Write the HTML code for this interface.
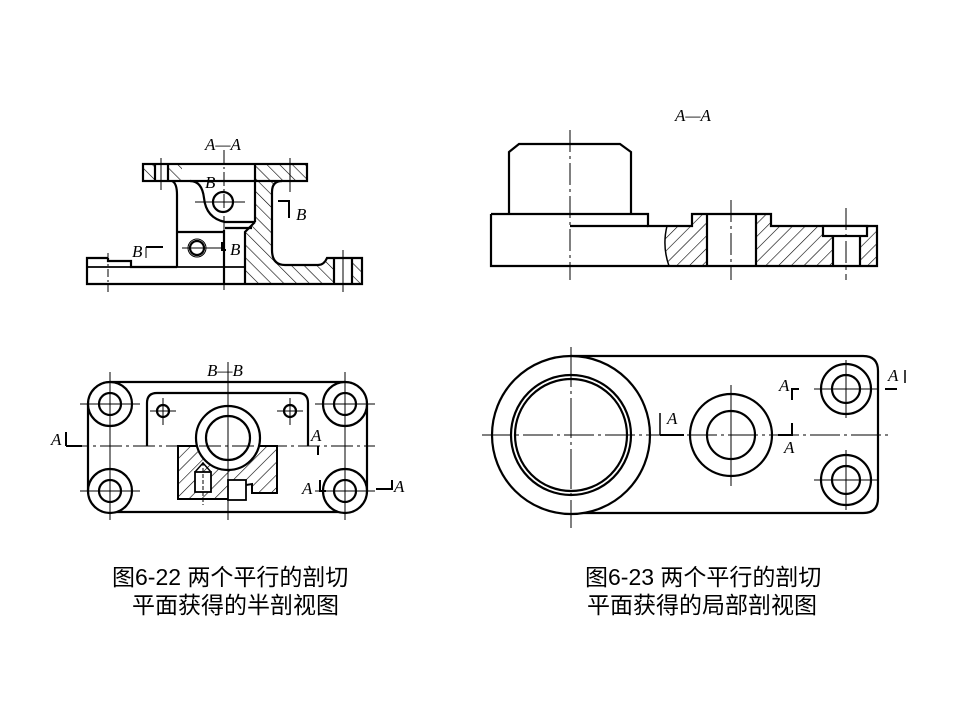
<!DOCTYPE html>
<html><head><meta charset="utf-8"><style>
html,body{margin:0;padding:0;background:#fff;}
svg{display:block;}
.t{font-family:"Liberation Serif",serif;font-style:italic;font-size:17px;fill:#000;}
.c{font-family:"Liberation Sans","Noto Sans CJK SC",sans-serif;font-size:23px;fill:#000;}
</style></head><body>
<svg width="960" height="720" viewBox="0 0 960 720" xmlns="http://www.w3.org/2000/svg">
<defs>
<pattern id="h" patternUnits="userSpaceOnUse" width="9" height="9" patternTransform="rotate(45)">
<line x1="0" y1="0" x2="0" y2="9" stroke="#000" stroke-width="1.2"/>
</pattern>
<pattern id="h2" patternUnits="userSpaceOnUse" width="9" height="9" patternTransform="rotate(-45)">
<line x1="0" y1="0" x2="0" y2="9" stroke="#000" stroke-width="1.2"/>
</pattern>
</defs>
<rect width="960" height="720" fill="#fff"/>

<!-- ===== Top-left A-A ===== -->
<g fill="none" stroke="#000" stroke-width="2.2">
<rect x="143" y="164" width="12" height="17" fill="url(#h2)" stroke="none"/>
<rect x="168" y="164" width="14" height="17" fill="url(#h2)" stroke="none"/>
<path d="M255 164 H307 V181 H282 Q272 181 272 192 V250 Q272 265 285 265 H318 Q324 265 327 258 H334 V284 H245 V232 L255 222 Z" fill="url(#h2)" stroke="none"/>
<rect x="352" y="258" width="10" height="26" fill="url(#h2)" stroke="none"/>
<rect x="143" y="164" width="164" height="17"/>
<line x1="155" y1="164" x2="155" y2="181"/><line x1="168" y1="164" x2="168" y2="181"/>
<path d="M282 181 Q272 181 272 192 V250 Q272 265 285 265 H318 Q324 265 327 258 H362 V284 H87 V258 H108"/>
<path d="M108 258 V261 H131 V267 H177"/>
<line x1="87" y1="267" x2="245" y2="267" stroke-width="1.8"/>
<line x1="255" y1="164" x2="255" y2="222"/>
<path d="M255 222 L245 232 V284"/>
<line x1="224" y1="230" x2="224" y2="284"/>
<path d="M172 181 Q177 183 177 195 V267"/>
<path d="M190 181 Q202 181 204 198 Q206 218 225 222 H255"/>
<line x1="177" y1="232" x2="225" y2="232"/>
<path d="M225 228 H252"/>
<line x1="334" y1="258" x2="334" y2="284"/><line x1="352" y1="258" x2="352" y2="284"/>
<circle cx="223" cy="202" r="10"/>
<circle cx="197" cy="248" r="7"/>
<circle cx="197" cy="248" r="9" stroke-width="1"/>
</g>
<g stroke="#000" stroke-width="1" fill="none">
<line x1="224" y1="150" x2="224" y2="290" stroke-dasharray="14,3,2,3"/>
<line x1="161" y1="158" x2="161" y2="190"/>
<line x1="290" y1="158" x2="290" y2="192"/>
<line x1="343" y1="250" x2="343" y2="292"/>
<line x1="108" y1="253" x2="108" y2="292" stroke-dasharray="8,3,2,3"/>
<line x1="195" y1="202" x2="245" y2="202"/>
<line x1="182" y1="248" x2="222" y2="248"/>
<path d="M278 201 H289 V218" stroke-width="2"/>
<path d="M146 247 V258" />
<path d="M146 247 H163" stroke-width="2"/>
<path d="M222 242 V250 H226" stroke-width="2"/>
</g>
<text class="t" x="205" y="150">A—A</text>
<text class="t" x="205" y="188">B</text>
<text class="t" x="296" y="220">B</text>
<text class="t" x="230" y="255">B</text>
<text class="t" x="132" y="257">B</text>

<!-- ===== Bottom-left B-B ===== -->
<g fill="none" stroke="#000" stroke-width="2.2">
<path d="M178 446 H277 V493 H252 V484 L240 486 V499 H178 Z" fill="url(#h)" stroke-width="2"/>
<path d="M110 382 H345 M110 512 H345 M88 404 V491 M367 404 V491"/>
<path d="M147 446 V403 Q147 393 157 393 H298 Q308 393 308 403 V446"/>
<circle cx="228" cy="438" r="32" fill="#fff"/>
<circle cx="228" cy="438" r="22"/>
<circle cx="110" cy="404" r="22" fill="#fff"/><circle cx="110" cy="404" r="11"/>
<circle cx="345" cy="404" r="22" fill="#fff"/><circle cx="345" cy="404" r="11"/>
<circle cx="110" cy="491" r="22" fill="#fff"/><circle cx="110" cy="491" r="11"/>
<circle cx="345" cy="491" r="22" fill="#fff"/><circle cx="345" cy="491" r="11"/>
<circle cx="163" cy="411" r="6"/><circle cx="290" cy="411" r="6"/>
<rect x="195" y="472" width="16" height="20" fill="#fff" stroke-width="1.8"/>
<path d="M195 472 L203 463 L211 472" stroke-width="1.5"/>
<rect x="228" y="480" width="18" height="20" fill="#fff" stroke-width="1.8"/>
</g>
<g stroke="#000" stroke-width="1" fill="none">
<line x1="67" y1="446" x2="375" y2="446" stroke-dasharray="22,4,3,4"/>
<line x1="228" y1="362" x2="228" y2="520"/>
<line x1="110" y1="372" x2="110" y2="520"/><line x1="345" y1="372" x2="345" y2="520"/>
<line x1="80" y1="404" x2="140" y2="404"/><line x1="315" y1="404" x2="375" y2="404"/>
<line x1="80" y1="491" x2="140" y2="491"/><line x1="315" y1="491" x2="375" y2="491"/>
<line x1="163" y1="398" x2="163" y2="425"/><line x1="150" y1="411" x2="176" y2="411"/>
<line x1="290" y1="398" x2="290" y2="425"/><line x1="277" y1="411" x2="303" y2="411"/>
<line x1="203" y1="462" x2="203" y2="505" stroke-dasharray="4,2"/>
<path d="M66 446 V432" stroke-width="2"/><path d="M66 446 H82" stroke-width="2"/>
<path d="M318 446 V455" stroke-width="2"/>
<path d="M320 480 V491 H326" stroke-width="2"/>
<path d="M376 489 H392 V480" stroke-width="2"/>
</g>
<text class="t" x="207" y="376">B—B</text>
<text class="t" x="51" y="445">A</text>
<text class="t" x="311" y="441">A</text>
<text class="t" x="302" y="494">A</text>
<text class="t" x="394" y="492">A</text>

<!-- ===== Top-right A-A ===== -->
<g fill="none" stroke="#000" stroke-width="2.2">
<path d="M667 226 H692 V214 H707 V266 H669 Q662 246 667 226 Z" fill="url(#h)" stroke="none"/>
<path d="M756 214 H771 V226 H833 V266 H756 Z" fill="url(#h)" stroke="none"/>
<rect x="860" y="226" width="17" height="40" fill="url(#h)" stroke="none"/>
<path d="M509 214 V152 L519 144 H620 L631 152 V214"/>
<path d="M491 214 V266 H877 V226 H771 V214 H692 V226 H648 V214 H491"/>
<line x1="570" y1="226" x2="648" y2="226"/>
<path d="M667 226 Q662 246 669 266" stroke-width="1.5"/>
<line x1="707" y1="214" x2="707" y2="266"/><line x1="756" y1="214" x2="756" y2="266"/>
<rect x="823" y="226" width="44" height="10" fill="#fff"/>
<line x1="833" y1="236" x2="833" y2="266"/><line x1="860" y1="236" x2="860" y2="266"/>
</g>
<g stroke="#000" stroke-width="1" fill="none">
<line x1="570" y1="130" x2="570" y2="280" stroke-dasharray="22,4,3,4"/>
<line x1="731" y1="200" x2="731" y2="280" stroke-dasharray="22,4,3,4"/>
<line x1="846" y1="208" x2="846" y2="280" stroke-dasharray="22,4,3,4"/>
</g>
<text class="t" x="675" y="121">A—A</text>

<!-- ===== Bottom-right ===== -->
<g fill="none" stroke="#000" stroke-width="2.2">
<path d="M571 356 H863 Q878 356 878 371 V498 Q878 513 863 513 H571"/>
<circle cx="571" cy="435" r="79" fill="#fff"/>
<circle cx="571" cy="435" r="60"/>
<circle cx="571" cy="435" r="56"/>
<circle cx="731" cy="435" r="41"/><circle cx="731" cy="435" r="24"/>
<circle cx="846" cy="389" r="25"/><circle cx="846" cy="389" r="14"/>
<circle cx="846" cy="480" r="25"/><circle cx="846" cy="480" r="14"/>
</g>
<g stroke="#000" stroke-width="1" fill="none">
<line x1="482" y1="435" x2="890" y2="435" stroke-dasharray="30,4,3,4"/>
<line x1="571" y1="347" x2="571" y2="528" stroke-dasharray="40,4,3,4"/>
<line x1="731" y1="385" x2="731" y2="486"/>
<line x1="846" y1="360" x2="846" y2="418"/><line x1="814" y1="389" x2="878" y2="389"/>
<line x1="846" y1="450" x2="846" y2="510"/><line x1="814" y1="480" x2="878" y2="480"/>
<path d="M660 435 V413" stroke-width="1.5"/><path d="M660 435 H684" stroke-width="2"/>
<path d="M778 435 H792 V423" stroke-width="2"/>
<path d="M792 400 V389 H799" stroke-width="2"/>
<path d="M885 389 H897" stroke-width="2"/><path d="M905 370 V383" stroke-width="1.5"/>
</g>
<text class="t" x="667" y="424">A</text>
<text class="t" x="779" y="391">A</text>
<text class="t" x="784" y="453">A</text>
<text class="t" x="888" y="381">A</text>

<!-- captions -->
<text class="c" x="112" y="585">图6-22  两个平行的剖切</text>
<text class="c" x="132" y="613">平面获得的半剖视图</text>
<text class="c" x="585" y="585">图6-23  两个平行的剖切</text>
<text class="c" x="587" y="613">平面获得的局部剖视图</text>
</svg>
</body></html>
